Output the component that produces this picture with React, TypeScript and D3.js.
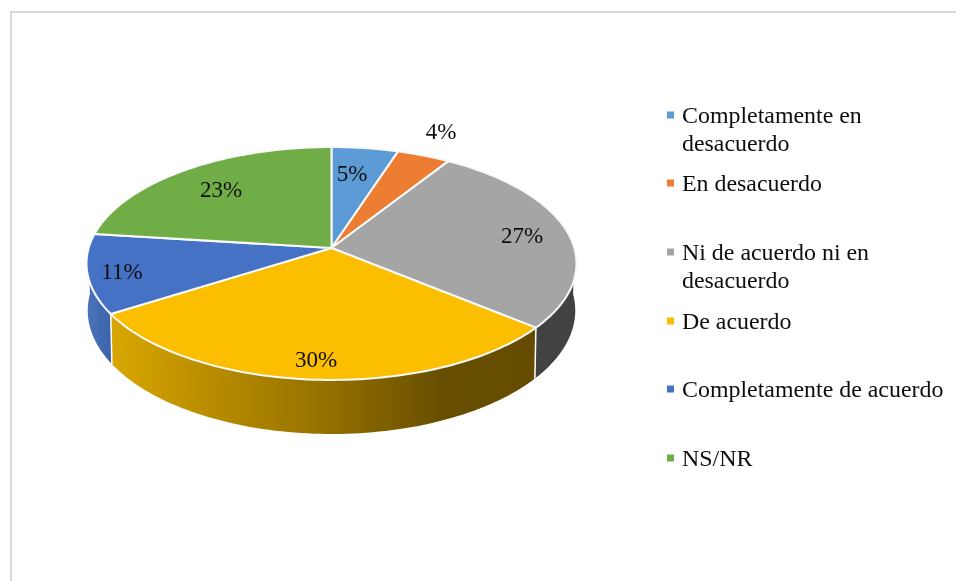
import React from "react";
import * as d3 from "d3";

const categories = ["Completamente en desacuerdo", "En desacuerdo", "Ni de acuerdo ni en desacuerdo", "De acuerdo", "Completamente de acuerdo", "NS/NR"];
const values = [5, 4, 27, 30, 11, 23];
const colors = ["#5b9bd5", "#ed7d31", "#a5a5a5", "#fbbe00", "#4472c4", "#70ad47"];
const legendLines = [["Completamente en", "desacuerdo"], ["En desacuerdo"], ["Ni de acuerdo ni en", "desacuerdo"], ["De acuerdo"], ["Completamente de acuerdo"], ["NS/NR"]];
const legendBaselines = [123, 191, 260, 329, 397, 466];
const labelCenters: [number, number][] = [[352, 173], [441, 131], [522, 235], [316, 359], [122, 271], [221, 189]];

const W = 956, H = 581;
const apexX = 331.5, apexY = 248;
const a = 242.8, b = 114.4, k = 0.133;
const ellipseCY = 263, wallCY = 310, wallSY = 1.06, wallSX = 0.995;
const legendFont = 23.9, labelFont = 23;
const serif = "'Liberation Serif', serif";

type P = [number, number];
const rimTop = (t: number): P => {
  const u = Math.sin(t), v = Math.cos(t), w = 1 + k * v;
  return [apexX + (a * u) / w, apexY - (b * v) / w];
};
const rimBottom = (t: number): P => {
  const [x, y] = rimTop(t);
  return [apexX + (x - apexX) * wallSX, wallCY + (y - ellipseCY) * wallSY];
};
const arcPts = (t0: number, t1: number, f: (t: number) => P): P[] =>
  d3.range(0, 81).map((i) => f(t0 + ((t1 - t0) * i) / 80));

const pie = d3.pie<number>().sort(null)(values);
const line = d3.line<P>();

export default function App() {
  const slices = pie.map((s) => ({ start: s.startAngle, end: s.endAngle, index: s.index }));
  const wall = (t0: number, t1: number) =>
    line([...arcPts(t0, t1, rimTop), ...arcPts(t1, t0, rimBottom)]) + "Z";
  const edge = (t: number) => line([rimTop(t), rimBottom(t)]) as string;
  const gray = slices[2], yellow = slices[3], blue = slices[4];
  return (
    <svg width={W} height={H} style={{ position: "absolute", left: 0, top: 0, background: "#fff" }} fontFamily={serif}>
      <defs>
        <linearGradient id="gy" gradientUnits="userSpaceOnUse" x1={110} x2={537} y1={0} y2={0}>
          <stop offset="0" stopColor="#daa700" />
          <stop offset="0.2" stopColor="#bd9000" />
          <stop offset="0.5" stopColor="#957100" />
          <stop offset="0.78" stopColor="#674e00" />
          <stop offset="1" stopColor="#654c00" />
        </linearGradient>
        <linearGradient id="gb" gradientUnits="userSpaceOnUse" x1={88} x2={113} y1={0} y2={0}>
          <stop offset="0" stopColor="#4a73bb" />
          <stop offset="1" stopColor="#3a62a6" />
        </linearGradient>
        <filter id="soft" x="-5%" y="-5%" width="110%" height="110%">
          <feGaussianBlur stdDeviation="0.55" />
        </filter>
        <filter id="softText" x="-5%" y="-5%" width="110%" height="110%">
          <feGaussianBlur stdDeviation="0.3" />
        </filter>
      </defs>
      <path d="M11 581V12H956" fill="none" stroke="#d9d9d9" strokeWidth={2} />
      <g filter="url(#soft)">
        <path d={wall(blue.start, (3 * Math.PI) / 2)} fill="url(#gb)" />
        <path d={wall(Math.PI / 2, gray.end)} fill="#424242" />
        <path d={wall(yellow.start, yellow.end)} fill="url(#gy)" />
        <path d={edge(yellow.start)} stroke="#fff" strokeWidth={1.5} fill="none" />
        <path d={edge(yellow.end)} stroke="#fff" strokeWidth={1.5} fill="none" />
        {slices.map((s) => (
          <path
            key={categories[s.index]}
            d={line([[apexX, apexY], ...arcPts(s.start, s.end, rimTop)]) + "Z"}
            fill={colors[s.index]}
            stroke="#fafafa"
            strokeWidth={2}
            strokeLinejoin="round"
          />
        ))}
      </g>
      <g filter="url(#softText)" fill="#111">
        {values.map((v, i) => (
          <text key={i} x={labelCenters[i][0]} y={labelCenters[i][1] + 8} textAnchor="middle" fontSize={labelFont}>
            {v}%
          </text>
        ))}
        {categories.map((c, i) => (
          <g key={c}>
            <rect x={667} y={legendBaselines[i] - 11.5} width={7} height={7} fill={colors[i]} />
            {legendLines[i].map((l, j) => (
              <text key={l} x={682} y={legendBaselines[i] + j * 27.5} fontSize={legendFont}>
                {l}
              </text>
            ))}
          </g>
        ))}
      </g>
    </svg>
  );
}
